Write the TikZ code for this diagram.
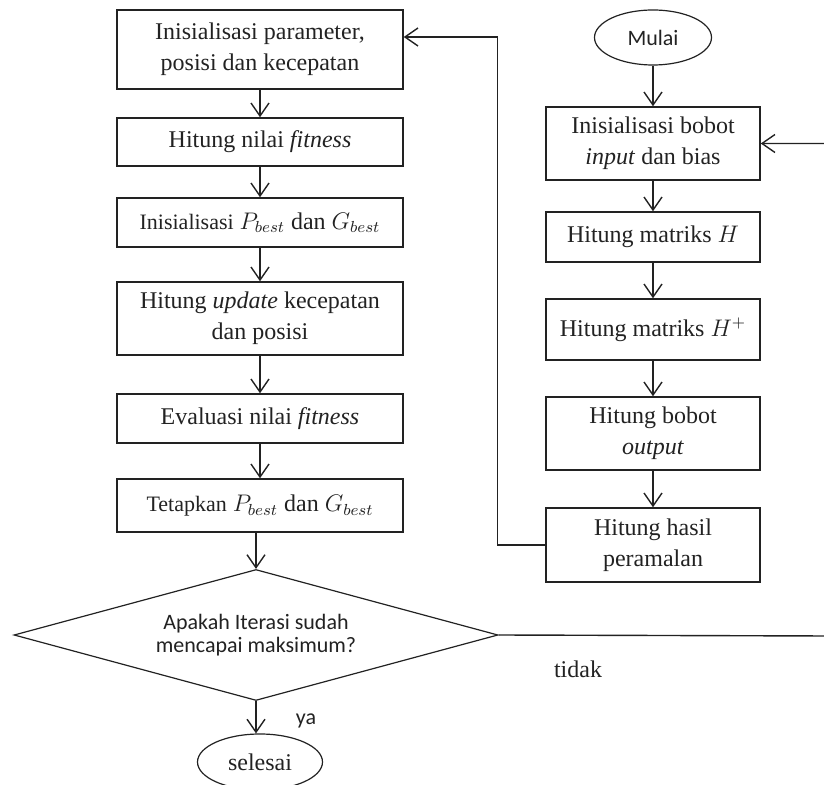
\documentclass[tikz,border=0pt]{standalone}
\usepackage{fontspec}
\setmainfont{Liberation Serif}
\newfontfamily\calfont{Carlito}
\usetikzlibrary{shapes.geometric,arrows.meta}
\definecolor{ink}{HTML}{222222}
\tikzset{
    prosesbox/.style={
        rectangle,
        draw=ink,
        line width=0.75pt,
        align=center,
        inner sep=1pt,
        text=ink,
        font=\fontsize{12}{15.5}\selectfont
    },
    leftbox/.style={
        prosesbox,
        minimum width=143pt
    },
    rightbox/.style={
        prosesbox,
        minimum width=107pt
    },
    terminal/.style={
        ellipse,
        draw=ink,
        line width=0.6pt,
        inner sep=0pt,
        text=ink
    },
    decision/.style={
        diamond,
        draw=ink,
        line width=0.6pt,
        aspect=3.7,
        inner sep=0pt,
        minimum width=242pt,
        minimum height=65.5pt,
        align=center,
        text=ink,
        font=\calfont\fontsize{11}{11.5}\selectfont
    },
    flow/.style={
        -{Straight Barb[length=6.5pt,width=9pt]},
        draw=ink,
        line width=0.7pt
    },
    branchlabel/.style={
        text=ink,
        inner sep=0pt
    }
}

\begin{document}
\begin{tikzpicture}[x=0.5pt,y=-0.5pt]
    \useasboundingbox (0,0) rectangle (824,785);

    % PSO column
    \node[leftbox, minimum height=39.5pt] (pso-1) at (260,49.5)
        {Inisialisasi parameter,\\posisi dan kecepatan};
    \node[leftbox, minimum height=24pt] (pso-2) at (260,142)
        {Hitung nilai \textit{fitness}};
    \node[leftbox, minimum height=24.5pt] (pso-3) at (260,222.5)
        {{\fontsize{11}{13}\selectfont Inisialisasi} $P_{best}$ dan $G_{best}$};
    \node[leftbox, minimum height=36.5pt] (pso-4) at (260,318.5)
        {Hitung \textit{update} kecepatan\\dan posisi};
    \node[leftbox, minimum height=24.5pt] (pso-5) at (260,418.5)
        {Evaluasi nilai \textit{fitness}};
    \node[leftbox, minimum height=26.5pt] (pso-6) at (260,505.5)
        {{\fontsize{11}{13}\selectfont Tetapkan} $P_{best}$ dan $G_{best}$};

    % Stopping test
    \node[decision] (cek) at (256,635) {Apakah Iterasi sudah\\mencapai maksimum?};
    \node[terminal, minimum width=62.5pt, minimum height=28pt,
          font=\fontsize{12}{14}\selectfont] (selesai) at (260,762) {selesai};

    % ELM column
    \node[terminal, minimum width=58.5pt, minimum height=27.5pt,
          font=\calfont\fontsize{11}{13}\selectfont] (mulai) at (653,37.5) {Mulai};
    \node[rightbox, minimum height=36.5pt] (elm-1) at (653,143.5)
        {Inisialisasi bobot\\\textit{input} dan bias};
    \node[rightbox, minimum height=25pt] (elm-2) at (653,237)
        {Hitung matriks $H$};
    \node[rightbox, minimum height=30.5pt] (elm-3) at (653,329.5)
        {Hitung matriks $H^{+}$};
    \node[rightbox, minimum height=36.5pt] (elm-4) at (653,433.5)
        {Hitung bobot\\\textit{output}};
    \node[rightbox, minimum height=37pt] (elm-5) at (653,545)
        {Hitung hasil\\peramalan};

    % Main flow arrows
    \foreach \i/\j in {1/2,2/3,3/4,4/5,5/6} {
        \draw[flow] (pso-\i) -- (pso-\j);
    }
    \draw[flow] (pso-6.south -| cek.north) -- (cek.north);
    \draw[flow] (cek.south) -- (cek.south |- selesai.north);

    \draw[flow] (mulai) -- (elm-1);
    \foreach \i/\j in {1/2,2/3,3/4,4/5} {
        \draw[flow] (elm-\i) -- (elm-\j);
    }

    % Loops back
    \draw[flow] (elm-5.west) -- ++(-48,0) |- ([yshift=6.25pt]pso-1.east);
    \coordinate (tepi) at (830,636);
    \draw[flow] (cek.east) -- (tepi) |- (elm-1.east);

    % Labels
    \node[branchlabel, font=\fontsize{12}{14}\selectfont] (lbl-tidak) at (578,669) {tidak};
    \node[branchlabel, font=\calfont\fontsize{11}{13}\selectfont] (lbl-ya) at (306,721) {ya};

\end{tikzpicture}
\end{document}
